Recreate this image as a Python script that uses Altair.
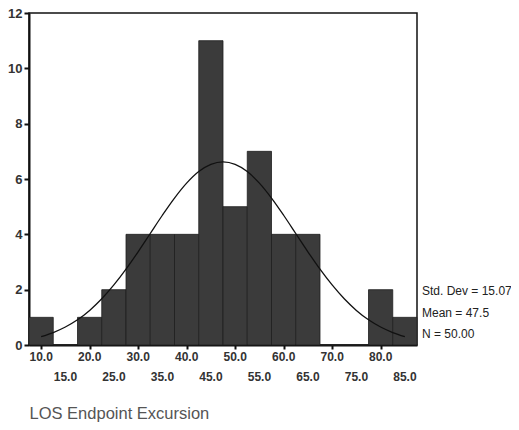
import altair as alt
import pandas as pd

# ---- data ----
bin_centers = [10, 15, 20, 25, 30, 35, 40, 45, 50, 55, 60, 65, 70, 75, 80, 85]
counts = [1, 0, 1, 2, 4, 4, 4, 11, 5, 7, 4, 4, 0, 0, 2, 1]
tick_labels = ["10.0", "15.0", "20.0", "25.0", "30.0", "35.0", "40.0", "45.0",
               "50.0", "55.0", "60.0", "65.0", "70.0", "75.0", "80.0", "85.0"]
label_row = [0, 1, 0, 1, 0, 1, 0, 1, 0, 1, 0, 1, 0, 1, 0, 1]

# fitted normal curve
curve_x = [10, 12.5, 15, 17.5, 20, 22.5, 25, 27.5, 30, 32.5, 35, 37.5, 40, 42.5, 45,
           47.5, 50, 52.5, 55, 57.5, 60, 62.5, 65, 67.5, 70, 72.5, 75, 77.5, 80, 82.5, 85]
curve_y = [0.30, 0.45, 0.65, 0.91, 1.25, 1.67, 2.17, 2.74, 3.37, 4.03, 4.69, 5.31, 5.85, 6.27, 6.53,
           6.62, 6.53, 6.27, 5.85, 5.31, 4.69, 4.03, 3.37, 2.74, 2.17, 1.67, 1.25, 0.91, 0.65, 0.45, 0.30]

stats_lines = ["Std. Dev = 15.07", "Mean = 47.5", "N = 50.00"]
axis_title = "LOS Endpoint Excursion"
y_ticks = [0, 2, 4, 6, 8, 10, 12]

W, H = 388, 332
FONT = "Liberation Sans"

hist = pd.DataFrame({"center": bin_centers, "count": counts})
curve = pd.DataFrame({"x": curve_x, "y": curve_y})
labels = pd.DataFrame({"center": bin_centers, "label": tick_labels, "row": label_row})
stats = pd.DataFrame({"t": ["stats"]})

xscale = alt.Scale(domain=[7.5, 87.5], nice=False, zero=False)
yscale = alt.Scale(domain=[0, 12], nice=False)

bars = alt.Chart(hist).transform_calculate(
    x0="datum.center - 2.5", x1="datum.center + 2.5"
).mark_bar(fill="#3b3b3b", stroke="#1e1e1e", strokeWidth=0.8).encode(
    x=alt.X("x0:Q", scale=xscale,
            axis=alt.Axis(values=bin_centers, labels=False, ticks=True, tickSize=4,
                          tickWidth=2, tickColor="#111", domainColor="#111", domainWidth=2,
                          grid=False, title=axis_title, titleX=0, titleY=73.5,
                          titleAlign="left", titleAnchor="start", titleBaseline="alphabetic",
                          titleFont=FONT, titleFontSize=16.5, titleFontWeight="normal",
                          titleColor="#555")),
    x2="x1:Q",
    y=alt.Y("count:Q", scale=yscale,
            axis=alt.Axis(values=y_ticks, tickSize=5, tickWidth=2, tickColor="#111",
                          domainColor="#111", domainWidth=2, grid=False, title=None,
                          labelFont=FONT, labelFontSize=13, labelFontWeight="bold",
                          labelColor="#333", labelPadding=2, format="d")),
    y2=alt.datum(0),
)

line = alt.Chart(curve).mark_line(color="#111", strokeWidth=1.3, interpolate="monotone").encode(
    x=alt.X("x:Q", scale=xscale),
    y=alt.Y("y:Q", scale=yscale),
)

row0 = alt.Chart(labels).transform_filter("datum.row == 0").mark_text(
    font=FONT, fontSize=12, fontWeight="bold", color="#333", baseline="middle", align="center"
).encode(x=alt.X("center:Q", scale=xscale), y=alt.value(H + 12), text="label:N")

row1 = alt.Chart(labels).transform_filter("datum.row == 1").mark_text(
    font=FONT, fontSize=12, fontWeight="bold", color="#333", baseline="middle", align="center"
).encode(x=alt.X("center:Q", scale=xscale), y=alt.value(H + 32), text="label:N")

stat_text = alt.Chart(stats).mark_text(
    font=FONT, fontSize=12, color="#222", align="left", baseline="middle", lineHeight=21.5
).encode(x=alt.value(W + 5), y=alt.value(278), text=alt.value(stats_lines))

chart = alt.layer(bars, line, row0, row1, stat_text).properties(
    width=W, height=H,
    autosize=alt.AutoSizeParams(type="none"),
    padding={"left": 21, "top": 5, "right": 94, "bottom": 77},
).configure_view(stroke="#111", strokeWidth=1.5)

chart.save("out.html", embed_options={"renderer": "svg", "actions": False})
